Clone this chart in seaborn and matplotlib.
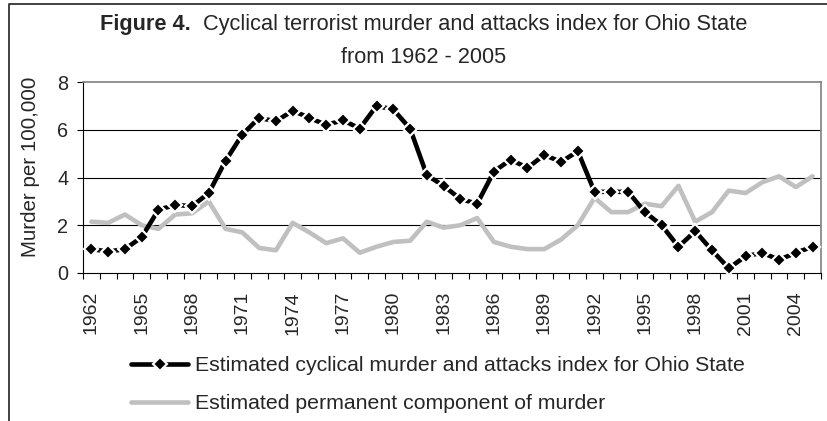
import numpy as np
import pandas as pd
import seaborn as sns
from matplotlib import pyplot as plt
from matplotlib.lines import Line2D


years = list(range(1962, 2006))

# estimated cyclical murder and attacks index
cyclical = [1.0, 0.9, 1.0, 1.5, 2.65, 2.85, 2.8, 3.35, 4.7, 5.8,
            6.5, 6.35, 6.8, 6.5, 6.2, 6.4, 6.05, 7.0, 6.85, 6.05,
            4.1, 3.65, 3.1, 2.9, 4.25, 4.75, 4.4, 4.95, 4.65, 5.1,
            3.4, 3.4, 3.4, 2.55, 2.0, 1.1, 1.75, 0.95, 0.2, 0.7,
            0.85, 0.55, 0.85, 1.1]

# estimated permanent component of murder
permanent = [2.15, 2.1, 2.45, 2.0, 1.85, 2.45, 2.5, 3.0, 1.85, 1.7,
             1.05, 0.95, 2.1, 1.7, 1.25, 1.45, 0.85, 1.1, 1.3, 1.35,
             2.15, 1.9, 2.0, 2.3, 1.3, 1.1, 1.0, 1.0, 1.4, 2.0,
             3.15, 2.55, 2.55, 2.9, 2.8, 3.65, 2.15, 2.55, 3.45, 3.35,
             3.8, 4.05, 3.6, 4.05]

label_cyc = 'Estimated cyclical murder and attacks index for Ohio State'
label_perm = 'Estimated permanent component of murder'
tick_years = years[::3]

sns.set_style('white')
plt.rcParams['font.family'] = ['Liberation Sans', 'DejaVu Sans']

df = pd.DataFrame({'year': years, 'cyclical': cyclical, 'permanent': permanent})

W, H = 827, 421
fig = plt.figure(figsize=(W / 100, H / 100), dpi=100)
ax = fig.add_axes([83 / W, 1 - 273 / H, (821 - 83) / W, (273 - 82) / H])

cyc_style = dict(color='black', linewidth=3.3, marker='D', markersize=7,
                 markeredgecolor='white', markeredgewidth=1.6)

sns.lineplot(data=df, x='year', y='permanent', ax=ax, color='#c0c0c0',
             linewidth=3.3, label=label_perm, zorder=3)
sns.lineplot(data=df, x='year', y='cyclical', ax=ax, label=label_cyc,
             zorder=4, **cyc_style)

ax.set_xlim(1961.5, 2005.5)
ax.set_ylim(0, 8)
ax.set_yticks([0, 2, 4, 6, 8])
ax.set_xticks(tick_years)
ax.set_xticklabels([str(y) for y in tick_years], rotation=90)
ax.set_xticks(np.arange(1961.5, 2006, 1), minor=True)
ax.tick_params(axis='x', which='major', length=0, pad=13, labelsize=14)
ax.tick_params(axis='x', which='minor', bottom=True, length=4.5, width=0.8, color='black')
ax.tick_params(axis='y', left=True, length=4.5, width=0.8, color='black', pad=6, labelsize=14.3)
ax.set_xlabel('')
ax.set_ylabel('')

for y in [2, 4, 6]:
    ax.axhline(y, color='black', linewidth=0.8, zorder=1)

for side in ['top', 'right']:
    ax.spines[side].set_color('#808080')
    ax.spines[side].set_linewidth(1.2)
for side in ['left', 'bottom']:
    ax.spines[side].set_color('black')
    ax.spines[side].set_linewidth(0.8)

ax.get_legend().remove()
handles = [Line2D([], [], **cyc_style),
           Line2D([], [], color='#c0c0c0', linewidth=3.3)]
fig.legend(handles, [label_cyc, label_perm], loc='upper left',
           bbox_to_anchor=(131 / W, 1 - 356 / H), frameon=False, fontsize=15.3,
           borderpad=0, borderaxespad=0, handlelength=2.7, handletextpad=0.3,
           labelspacing=0.9)

fig.text(31 / W, 1 - 167 / H, 'Murder per 100,000', rotation=90, ha='center',
         va='center', fontsize=14.8)

t1 = fig.text(100 / W, 1 - 30 / H, 'Figure 4.', fontsize=15.7, weight='bold',
              ha='left', va='baseline')
ax.annotate('  Cyclical terrorist murder and attacks index for Ohio State',
            xy=(1, 0), xycoords=t1, ha='left', va='bottom', fontsize=15.7,
            annotation_clip=False)
fig.text(424 / W, 1 - 63 / H, 'from 1962 - 2005', ha='center', va='baseline',
         fontsize=15.7)

# outer chart frame (left and top edges visible)
fig.add_artist(Line2D([9 / W, 9 / W, 1], [0, 1 - 4 / H, 1 - 4 / H],
                      transform=fig.transFigure, color='#333333', linewidth=1.3))

fig.savefig('out.png', dpi=100)
